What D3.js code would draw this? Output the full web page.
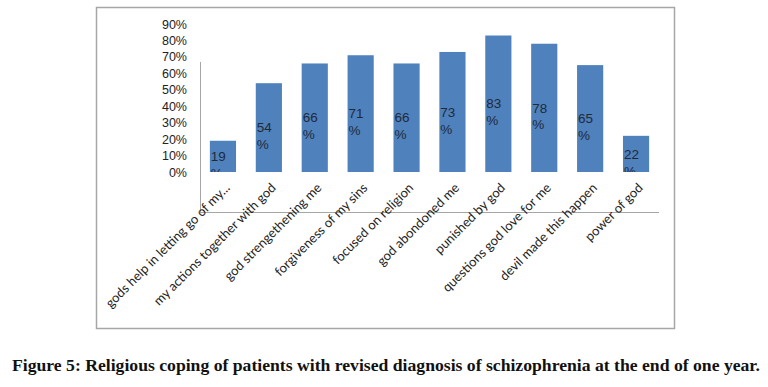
<!DOCTYPE html>
<html>
<head>
<meta charset="utf-8">
<script src="https://cdn.jsdelivr.net/npm/d3@7"></script>
<style>
  body { margin: 0; background: #fff; }
</style>
</head>
<body>
<div id="main_graphs"></div>
<script>
var categories = [
  "gods help in letting go of my...",
  "my actions together with god",
  "god strengethening me",
  "forgiveness of my sins",
  "focused on religion",
  "god abondoned me",
  "punished by god",
  "questions god love for me",
  "devil made this happen",
  "power of god"
]
var values = [19, 54, 66, 71, 66, 73, 83, 78, 65, 22]
var yTicks = [0, 10, 20, 30, 40, 50, 60, 70, 80, 90]
var caption = "Figure 5: Religious coping of patients with revised diagnosis of schizophrenia at the end of one year."

var width = 768
var height = 387

var svg = d3.select("#main_graphs")
  .append("svg")
  .attr("width", width)
  .attr("height", height)

// outer chart frame
svg.append("rect")
  .attr("x", 96.5)
  .attr("y", 7.5)
  .attr("width", 578)
  .attr("height", 321)
  .style("fill", "none")
  .style("stroke", "#a6a6a6")
  .style("stroke-width", 1.5)

var x = d3.scaleBand()
  .domain(categories)
  .range([200, 659])
  .paddingInner(0.43)
  .paddingOuter(0.215)

var y = d3.scaleLinear()
  .domain([0, 90])
  .range([172, 24])

// y tick labels (no tick marks in the original)
svg.append("g")
  .attr("transform", "translate(200,0)")
  .call(d3.axisLeft(y).tickValues(yTicks).tickSize(0).tickPadding(13).tickFormat(function(d){ return d + "%"; }))
  .call(function(g){ g.select(".domain").remove(); })
  .selectAll("text")
  .style("font-family", "'Liberation Sans', Arial, sans-serif")
  .style("font-size", "12.5px")
  .style("fill", "#222")

// axis lines, placed like in the picture
svg.append("line")
  .attr("x1", 200.5).attr("x2", 200.5)
  .attr("y1", 62).attr("y2", 212)
  .style("stroke", "#a6a6a6")
svg.append("line")
  .attr("x1", 200).attr("x2", 659)
  .attr("y1", 212.5).attr("y2", 212.5)
  .style("stroke", "#a6a6a6")

svg.append("clipPath")
  .attr("id", "plotclip")
  .append("rect")
  .attr("x", 200).attr("y", 0)
  .attr("width", 470).attr("height", y(0))

svg.selectAll("rect.bar")
  .data(values)
  .enter()
  .append("rect")
  .attr("class", "bar")
  .attr("x", function(d, i){ return x(categories[i]); })
  .attr("y", function(d){ return y(d); })
  .attr("width", x.bandwidth())
  .attr("height", function(d){ return y(0) - y(d); })
  .style("fill", "#4f81bd")

// value labels, wrapped "NN" / "%"
var labels = svg.append("g")
  .attr("clip-path", "url(#plotclip)")
  .selectAll("text")
  .data(values)
  .enter()
  .append("text")
  .attr("x", function(d, i){ return x(categories[i]) + 1; })
  .attr("y", function(d){ return (y(d) + y(0)) / 2; })
  .attr("dy", "0.35em")
  .style("font-family", "'Liberation Sans', Arial, sans-serif")
  .style("font-size", "13.5px")
  .style("fill", "#1f2a38")

labels.append("tspan").text(function(d){ return d; })
labels.append("tspan")
  .attr("x", function(d, i){ return x(categories[i]) + 1; })
  .attr("dy", "1.25em")
  .text("%")

// rotated category labels
svg.selectAll("text.cat")
  .data(categories)
  .enter()
  .append("text")
  .attr("class", "cat")
  .attr("transform", function(d){ return "translate(" + (x(d) + x.bandwidth() / 2 + 4) + ",185) rotate(-45)"; })
  .attr("dy", "0.4em")
  .style("text-anchor", "end")
  .style("font-family", "Lato, 'Open Sans', sans-serif")
  .style("font-size", "13px")
  .style("fill", "#222")
  .text(function(d){ return d; })

svg.append("text")
  .attr("x", 12)
  .attr("y", 371)
  .attr("textLength", 748)
  .attr("lengthAdjust", "spacingAndGlyphs")
  .style("font-family", "'Liberation Serif', 'DejaVu Serif', serif")
  .style("font-weight", "bold")
  .style("font-size", "16px")
  .style("fill", "#111")
  .text(caption)
</script>
</body>
</html>
